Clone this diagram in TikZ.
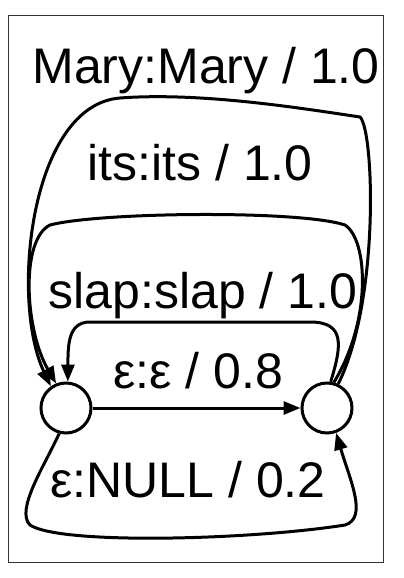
\documentclass[tikz,border=0pt]{standalone}
\usepackage{fontspec}
\setmainfont{Liberation Sans}
\usetikzlibrary{arrows.meta,positioning}
\tikzstyle{state} = [circle, draw=black, minimum size=50pt, inner sep=0pt, line width=3pt]
\tikzstyle{trans} = [line width=3pt, -{Triangle[length=17pt,width=13pt]}, color=black]
\tikzstyle{lbl} = [anchor=base, inner sep=0pt, font=\fontsize{50}{58}\selectfont]

\begin{document}
\begin{tikzpicture}[x=1pt,y=-1pt]
\useasboundingbox (0,0) rectangle (404,578);
% frame
\draw[line width=0.9pt, black!80] (8,15) rectangle (383,562);
% states
\node[state] (s0) at (66,408) {};
\node[state] (s1) at (327,408) {};

% transitions
\draw[trans] (s0) -- (s1);
\draw[trans] (s1.65) .. controls (380,300) and (374,130) .. (360,117)
  .. controls (300,108) and (200,92) .. (120,98)
  .. controls (30,105) and (10,300) .. (s0.125);
\draw[trans] (s1.75) .. controls (372,320) and (368,240) .. (345,225)
  .. controls (300,210) and (100,212) .. (50,225)
  .. controls (20,240) and (25,330) .. (s0.112);
\draw[trans] (s1.82) .. controls (342,345) and (345,322) .. (310,322)
  -- (90,322) .. controls (68,322) and (68,345) .. (s0.86);
\draw[trans] (s0.255) .. controls (45,465) and (15,510) .. (30,525)
  .. controls (60,545) and (250,540) .. (345,525)
  .. controls (368,518) and (350,480) .. (s1.290);

% labels
\node[lbl] (lmary) at (206,83) {Mary:Mary / 1.0};
\node[lbl] (lits) at (200,180) {its:its / 1.0};
\node[lbl] (lslap) at (203,308) {slap:slap / 1.0};
\node[lbl] (leps) at (198,388) {ε:ε / 0.8};
\node[lbl] (lnull) at (188,497) {ε:NULL / 0.2};
\end{tikzpicture}
\end{document}
